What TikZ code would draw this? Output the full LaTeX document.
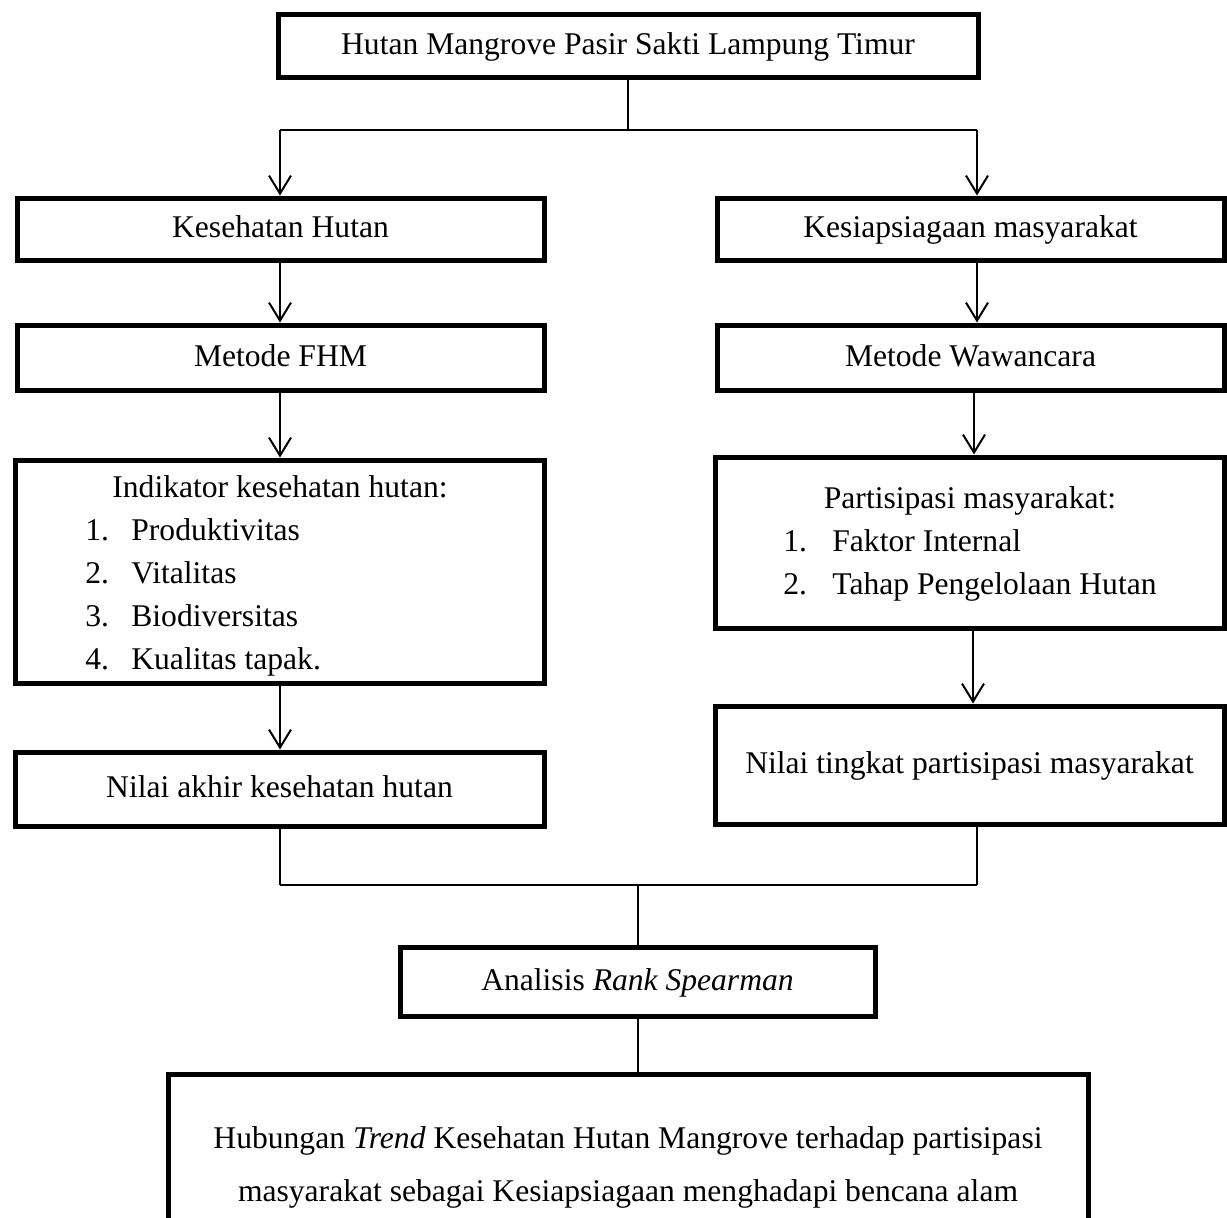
\documentclass[tikz,border=0pt]{standalone}
\usepackage{fontspec}
\setmainfont{Liberation Serif}
\usetikzlibrary{arrows.meta}

\begin{document}
\begin{tikzpicture}[x=0.5pt, y=-0.5pt,
    box/.style={rectangle, draw, line width=2.5pt, inner sep=0pt, font=\fontsize{15.8}{21.5}\selectfont},
    oneline/.style={box, execute at begin node=\strut},
    txt/.style={inner sep=0pt, font=\fontsize{15.8}{21.5}\selectfont}]
    \useasboundingbox (0,0) rectangle (1227,1217);
    \clip (0,0) rectangle (1227,1217);

    \begin{scope}[every node/.style={oneline}]
      \node [minimum width=350pt, minimum height=31.5pt] (top) at (628,45.5) {Hutan Mangrove Pasir Sakti Lampung Timur};
      \node [minimum width=263.5pt, minimum height=31pt] (kh) at (280.5,229) {Kesehatan Hutan};
      \node [minimum width=253.5pt, minimum height=31pt] (ks) at (970.5,229) {Kesiapsiagaan masyarakat};
      \node [minimum width=263.5pt, minimum height=32.5pt] (fhm) at (280.5,357.5) {Metode FHM};
      \node [minimum width=253.5pt, minimum height=32.5pt] (waw) at (970.5,357.5) {Metode Wawancara};
      \node [minimum width=264.5pt, minimum height=111.5pt] (ind) at (279.5,571.5) {};
      \node [minimum width=254.5pt, minimum height=85.5pt] (par) at (969.5,542.5) {};
      \node [minimum width=264.5pt, minimum height=37pt] (akhir) at (279.5,789) {Nilai akhir kesehatan hutan};
      \node [minimum width=254.5pt, minimum height=59pt] (ntp) at (969.5,765) {Nilai tingkat partisipasi masyarakat};
      \node [minimum width=237.5pt, minimum height=34.5pt] (ana) at (637.5,981.5) {Analisis \textit{Rank Spearman}};
    \end{scope}
    \node [box, minimum width=460pt, minimum height=93pt, align=center, font=\fontsize{15.8}{26.5}\selectfont] (hub) at (628,1167)
      {Hubungan \textit{Trend} Kesehatan Hutan Mangrove terhadap partisipasi\\masyarakat sebagai Kesiapsiagaan menghadapi bencana alam};

    \begin{scope}[every node/.style={txt}]
      \node [anchor=base] (indtitle) at (280,497) {Indikator kesehatan hutan:};
      \node [anchor=base west] (ind1) at (85,540) {\makebox[23pt][l]{1.}Produktivitas};
      \node [anchor=base west] (ind2) at (85,583) {\makebox[23pt][l]{2.}Vitalitas};
      \node [anchor=base west] (ind3) at (85,626) {\makebox[23pt][l]{3.}Biodiversitas};
      \node [anchor=base west] (ind4) at (85,669) {\makebox[23pt][l]{4.}Kualitas tapak.};
      \node [anchor=base] (partitle) at (970,508) {Partisipasi masyarakat:};
      \node [anchor=base west] (par1) at (783,551) {\makebox[24.5pt][l]{1.}Faktor Internal};
      \node [anchor=base west] (par2) at (783,594) {\makebox[24.5pt][l]{2.}Tahap Pengelolaan Hutan};
    \end{scope}

    \coordinate (splitL) at (280,130);
    \coordinate (splitR) at (977,130);
    \coordinate (joinL) at (280,885);
    \coordinate (joinR) at (977,885);

    \begin{scope}[line width=1pt]
      \draw (top.south) -- (top.south |- splitL);
      \draw (splitL) -- (splitR);
      \draw (joinL) -- (joinR);
      \draw (joinL |- akhir.south) -- (joinL);
      \draw (joinR |- ntp.south) -- (joinR);
      \draw (ana.north |- joinL) -- (ana.north);
      \draw (ana.south) -- (ana.south |- hub.north);
    \end{scope}

    \begin{scope}[->, >={Straight Barb[length=9pt, width=11pt]}, line width=1pt]
      \draw (splitL) -- (splitL |- kh.north);
      \draw (splitR) -- (splitR |- ks.north);
      \draw (splitL |- kh.south) -- (splitL |- fhm.north);
      \draw (splitR |- ks.south) -- (splitR |- waw.north);
      \draw (splitL |- fhm.south) -- (splitL |- ind.north);
      \draw ([xshift=1.75pt]waw.south) -- ([xshift=1.75pt]waw.south |- par.north);
      \draw (splitL |- ind.south) -- (splitL |- akhir.north);
      \draw ([xshift=1.75pt]par.south) -- ([xshift=1.75pt]par.south |- ntp.north);
    \end{scope}

  \end{tikzpicture}
\end{document}
